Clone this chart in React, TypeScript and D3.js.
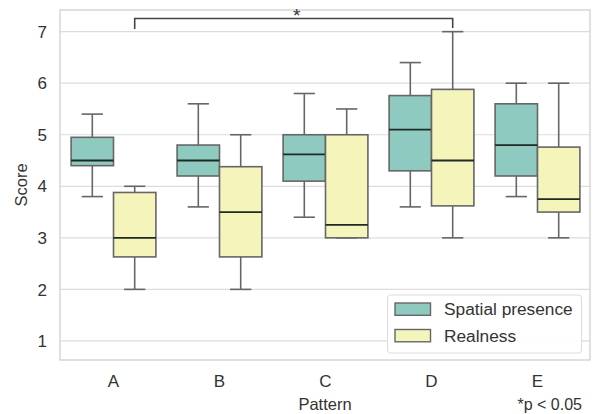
import React from "react";
import * as d3 from "d3";

const categories = ["A", "B", "C", "D", "E"];
const seriesNames = ["Spatial presence", "Realness"];
// [whiskerLow, q1, median, q3, whiskerHigh]
const spatialPresence = [
  [3.8, 4.4, 4.5, 4.95, 5.4],
  [3.6, 4.2, 4.5, 4.8, 5.6],
  [3.4, 4.1, 4.62, 5.0, 5.8],
  [3.6, 4.3, 5.1, 5.76, 6.4],
  [3.8, 4.2, 4.8, 5.6, 6.0],
];
const realness = [
  [2.0, 2.63, 3.0, 3.88, 4.0],
  [2.0, 2.63, 3.5, 4.38, 5.0],
  [3.0, 3.0, 3.25, 5.0, 5.5],
  [3.0, 3.62, 4.5, 5.88, 7.0],
  [3.0, 3.5, 3.75, 4.76, 6.0],
];
const yTicks = [1, 2, 3, 4, 5, 6, 7];
const colors = ["#8fcac0", "#f5f5bb"];
const sigPair = ["A", "D"];

const W = 593;
const H = 414;
const left = 60, right = 590, top = 10, bottom = 360;
const font = "'Liberation Sans', Arial, sans-serif";
const textColor = "#333";

export default function App() {
  const x = d3.scaleBand<string>().domain(categories).range([60.5, 590.5]).padding(0);
  const y = d3.scaleLinear().domain([0.63, 7.42]).range([bottom, top]);
  const bw = x.bandwidth();
  const boxW = (bw * 0.8) / 2;
  const series = [spatialPresence, realness];
  const edge = "#666";

  const sx1 = (x(sigPair[0])! + bw / 2) + boxW / 2;
  const sx2 = (x(sigPair[1])! + bw / 2) + boxW / 2;
  const bracketY = 18.5;

  return (
    <svg width={W} height={H} style={{ position: "absolute", left: 0, top: 0, background: "#fff" }} fontFamily={font}>
      <rect x={0} y={0} width={W} height={H} fill="#fff" />
      {yTicks.map((t) => (
        <line key={t} x1={left} x2={right} y1={y(t)} y2={y(t)} stroke="#dcdcdc" strokeWidth={1.2} />
      ))}
      <rect x={left} y={top} width={right - left} height={bottom - top} fill="none" stroke="#d0d0d0" strokeWidth={1.3} />
      {categories.map((c, i) => {
        const cx = x(c)! + bw / 2;
        return series.map((s, k) => {
          const [lo, q1, med, q3, hi] = s[i];
          const x0 = cx - boxW + k * boxW;
          const mx = x0 + boxW / 2;
          return (
            <g key={c + k}>
              <line x1={mx} x2={mx} y1={y(hi)} y2={y(q3)} stroke={edge} strokeWidth={1.6} />
              <line x1={mx} x2={mx} y1={y(q1)} y2={y(lo)} stroke={edge} strokeWidth={1.6} />
              <line x1={mx - boxW / 4} x2={mx + boxW / 4} y1={y(hi)} y2={y(hi)} stroke={edge} strokeWidth={1.6} />
              <line x1={mx - boxW / 4} x2={mx + boxW / 4} y1={y(lo)} y2={y(lo)} stroke={edge} strokeWidth={1.6} />
              <rect x={x0} y={y(q3)} width={boxW} height={y(q1) - y(q3)} fill={colors[k]} stroke={edge} strokeWidth={1.6} />
              <line x1={x0} x2={x0 + boxW} y1={y(med)} y2={y(med)} stroke="#1e2a24" strokeWidth={1.8} />
            </g>
          );
        });
      })}
      {yTicks.map((t) => (
        <text key={t} x={47} y={y(t)} dy="0.36em" textAnchor="end" fontSize={17} fill={textColor}>{t}</text>
      ))}
      {categories.map((c) => (
        <text key={c} x={x(c)! + bw / 2} y={386.5} textAnchor="middle" fontSize={17} fill={textColor}>{c}</text>
      ))}
      <text x={(left + right) / 2} y={410} textAnchor="middle" fontSize={16.5} fill={textColor}>Pattern</text>
      <text transform={`translate(27,${(top + bottom) / 2}) rotate(-90)`} textAnchor="middle" fontSize={16.5} fill={textColor}>Score</text>
      <path d={`M${sx1},29 V${bracketY} H${sx2} V28`} fill="none" stroke="#444" strokeWidth={1.6} />
      <text x={(sx1 + sx2) / 2 + 3} y={22} textAnchor="middle" fontSize={19} fill={textColor}>*</text>
      <g>
        <rect x={387.5} y={295} width={194} height={58} rx={3} fill="#fff" fillOpacity={0.9} stroke="#dcdcdc" strokeWidth={1} />
        {seriesNames.map((n, k) => (
          <g key={n}>
            <rect x={395} y={303 + k * 26.5} width={35.5} height={12.3} fill={colors[k]} stroke={edge} strokeWidth={1.4} />
            <text x={444} y={315 + k * 26.5} fontSize={17.3} fill={textColor}>{n}</text>
          </g>
        ))}
      </g>
      <text x={582} y={410} textAnchor="end" fontSize={16} fill={textColor}>*p &lt; 0.05</text>
    </svg>
  );
}
